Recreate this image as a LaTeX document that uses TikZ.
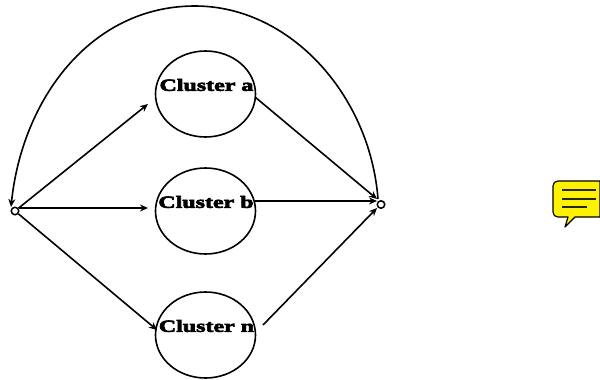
\documentclass[tikz,border=0pt]{standalone}
\usepackage{fontspec}
\setmainfont{Liberation Serif}
\usetikzlibrary{arrows.meta,shapes.geometric}
\newfontfamily\clusterfont[FakeBold=4,FakeStretch=1.41]{Liberation Serif Bold}
\tikzset{
  cluster/.style={draw=black,line width=1.6pt,ellipse,minimum width=100pt,minimum height=86pt,inner sep=0pt},
  clabel/.style={font=\clusterfont\fontsize{17}{19}\selectfont,text=black,inner sep=0pt},
  port/.style={draw=black,circle,line width=1.5pt,minimum size=7.5pt,inner sep=0pt,fill=white},
  link/.style={draw=black,line width=1.6pt,-{Stealth[length=8pt,width=7pt]}},
  note/.style={draw=black,line width=1.2pt,fill=yellow,line join=round},
  noteline/.style={draw=black!85,line width=1.2pt}
}
\begin{document}
\begin{tikzpicture}[x=1pt,y=-1pt]
\useasboundingbox (0,0) rectangle (600,380);
\node[cluster] (a) at (205.5,94) {};
\node[cluster] (b) at (205.5,211) {};
\node[cluster] (n) at (205.5,335) {};
\node[clabel] (ta) at (206.5,85) {Cluster a};
\node[clabel] (tb) at (206,202) {Cluster b};
\node[clabel] (tn) at (206.5,326) {Cluster n};
\node[port] (L) at (15,211) {};
\node[port] (R) at (381,204.5) {};
\coordinate (Ls) at (19,208);
\coordinate (aE) at (148,104);
\coordinate (bE) at (148,208);
\coordinate (nE) at (157,330);
\coordinate (aS) at (255,97);
\coordinate (bS) at (255,201);
\coordinate (nS) at (263,325);
\coordinate (Rb) at (377,201);
\coordinate (Rn) at (377,208);
\coordinate (Ra) at (377,199);
\coordinate (top) at (195,6);
\coordinate (Lt) at (11,207);
\coordinate (Rt) at (378,199);
\draw[link] (L) -- (aE);
\draw[link] (Ls) -- (bE);
\draw[link] (L) -- (nE);
\draw[link] (aS) -- (Ra);
\draw[link] (bS) -- (Rb);
\draw[link] (nS) -- (Rn);
\draw[link] (Rt) .. controls (370,95) and (290,6) .. (top) .. controls (90,6) and (22,100) .. (Lt);
\draw[note] (558,181) -- (600,181) -- (600,217) -- (575,217) -- (565,227) -- (568,217) -- (558,217)
  .. controls (555,217) and (553,215) .. (553,212) -- (553,186) .. controls (553,183) and (555,181) .. (558,181) -- cycle;
\draw[noteline] (562,190) -- (596,190);
\draw[noteline] (562,199) -- (596,199);
\draw[noteline] (562,207) -- (587,207);
\end{tikzpicture}
\end{document}
